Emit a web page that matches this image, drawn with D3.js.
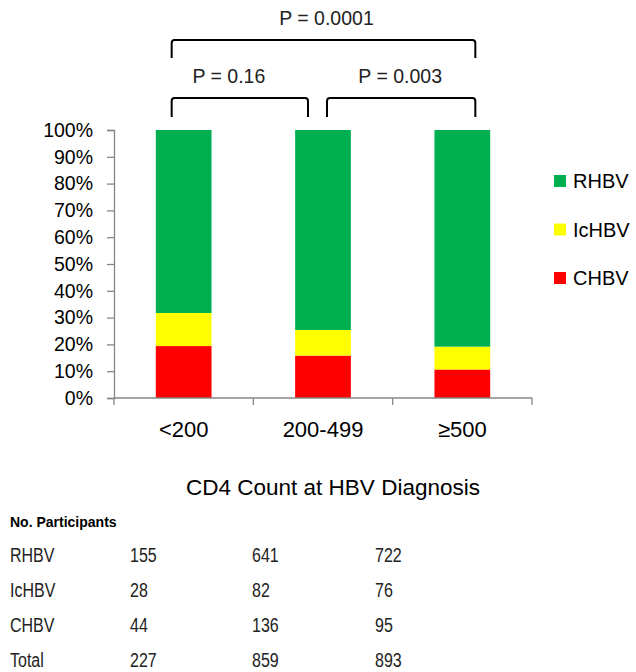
<!DOCTYPE html>
<html>
<head>
<meta charset="utf-8">
<script src="https://cdn.jsdelivr.net/npm/d3@7"></script>
<style>
  body { margin: 0; background: #fff; }
  svg { display: block; font-family: 'Liberation Sans', Arial, sans-serif; }
</style>
</head>
<body>
<svg width="636" height="672"></svg>
<script>
'use strict'

// data
let categories = ['<200', '200-499', '\u2265500'];
let series = ['CHBV', 'IcHBV', 'RHBV'];          // stacked bottom to top
let chbv = [44, 136, 95];
let ichbv = [28, 82, 76];
let rhbv = [155, 641, 722];
let totals = [227, 859, 893];
let yTicks = [0, 0.1, 0.2, 0.3, 0.4, 0.5, 0.6, 0.7, 0.8, 0.9, 1];
let pLabels = ['P = 0.16', 'P = 0.003', 'P = 0.0001'];

let colors = {RHBV: '#00b050', IcHBV: '#ffff00', CHBV: '#ff0000'};

let svg = d3.select('svg');

let x = d3.scaleBand()
    .domain(categories)
    .range([114, 532])
    .paddingInner(0.6)
    .paddingOuter(0.3);

let y = d3.scaleLinear()
    .domain([0, 1])
    .range([398, 130]);

// build rows for the stack as shares of each total
let rows = categories.map(function(c, i) {
    return {cat: c, CHBV: chbv[i] / totals[i], IcHBV: ichbv[i] / totals[i], RHBV: rhbv[i] / totals[i]};
});
let stacked = d3.stack().keys(series)(rows);

svg.append('g')
    .selectAll('g')
    .data(stacked)
    .enter().append('g')
    .attr('fill', function(d) { return colors[d.key]; })
    .selectAll('rect')
    .data(function(d) { return d; })
    .enter().append('rect')
    .attr('x', function(d) { return x(d.data.cat); })
    .attr('width', x.bandwidth())
    .attr('y', function(d) { return y(d[1]); })
    .attr('height', function(d) { return y(d[0]) - y(d[1]); });

// y axis
let yAxis = svg.append('g')
    .attr('transform', 'translate(114,0)')
    .call(d3.axisLeft(y).tickValues(yTicks).tickFormat(d3.format('.0%')).tickSize(7).tickPadding(14));
yAxis.selectAll('path, line').attr('stroke', '#868686').attr('stroke-width', 1.3);
yAxis.selectAll('text').attr('font-size', 19.5).attr('fill', '#000')
    .attr('font-family', "'Liberation Sans', Arial, sans-serif");

// x axis, Excel style: ticks on category boundaries
let xg = svg.append('g');
xg.append('line')
    .attr('x1', 114).attr('x2', 532)
    .attr('y1', y(0)).attr('y2', y(0))
    .attr('stroke', '#868686').attr('stroke-width', 1.3);
let bounds = categories.map(function(c) { return x(c) + x.bandwidth() / 2 - x.step() / 2; });
bounds.push(x(categories[categories.length - 1]) + x.bandwidth() / 2 + x.step() / 2);
xg.selectAll('.tk')
    .data(bounds)
    .enter().append('line')
    .attr('x1', function(d) { return d; }).attr('x2', function(d) { return d; })
    .attr('y1', y(0)).attr('y2', y(0) + 7)
    .attr('stroke', '#868686').attr('stroke-width', 1.3);
xg.selectAll('.cl')
    .data(categories)
    .enter().append('text')
    .attr('x', function(d) { return x(d) + x.bandwidth() / 2; })
    .attr('y', 437)
    .attr('text-anchor', 'middle')
    .attr('font-size', 22)
    .text(function(d) { return d; });

svg.append('text')
    .attr('x', 333).attr('y', 495)
    .attr('text-anchor', 'middle')
    .attr('font-size', 22.5)
    .text('CD4 Count at HBV Diagnosis');

// legend, top series first
let legend = svg.append('g')
    .selectAll('g')
    .data(series.slice().reverse())
    .enter().append('g')
    .attr('transform', function(d, i) { return 'translate(554,' + (181 + i * 48.5) + ')'; });
legend.append('rect')
    .attr('x', 0).attr('y', -6)
    .attr('width', 12).attr('height', 12)
    .attr('fill', function(d) { return colors[d]; });
legend.append('text')
    .attr('x', 19).attr('y', 7)
    .attr('font-size', 20)
    .text(function(d) { return d; });

// significance brackets
let cx = function(c) { return x(c) + x.bandwidth() / 2; };
let brackets = [
    {x0: cx(categories[0]) - 12, x1: cx(categories[1]) - 15, top: 98, bottom: 117, label: pLabels[0], dx: -11},
    {x0: cx(categories[1]) + 4, x1: cx(categories[2]) + 13, top: 98, bottom: 117, label: pLabels[1], dx: -1},
    {x0: cx(categories[0]) - 12, x1: cx(categories[2]) + 13, top: 40, bottom: 58, label: pLabels[2], dx: 3}
];
let r = 3;
let bg = svg.append('g');
bg.selectAll('path')
    .data(brackets)
    .enter().append('path')
    .attr('fill', 'none')
    .attr('stroke', '#000')
    .attr('stroke-width', 2)
    .attr('d', function(d) {
        return 'M' + d.x0 + ',' + d.bottom +
            'V' + (d.top + r) +
            'Q' + d.x0 + ',' + d.top + ' ' + (d.x0 + r) + ',' + d.top +
            'H' + (d.x1 - r) +
            'Q' + d.x1 + ',' + d.top + ' ' + d.x1 + ',' + (d.top + r) +
            'V' + d.bottom;
    });
bg.selectAll('text')
    .data(brackets)
    .enter().append('text')
    .attr('x', function(d) { return (d.x0 + d.x1) / 2 + d.dx; })
    .attr('y', function(d) { return d.top - 15; })
    .attr('text-anchor', 'middle')
    .attr('font-size', 19.5)
    .attr('fill', '#222')
    .text(function(d) { return d.label; });

// participant table
let table = svg.append('g');
table.append('text')
    .attr('x', 10).attr('y', 527)
    .attr('font-size', 14)
    .attr('font-weight', 'bold')
    .text('No. Participants');

let tableRows = [
    ['RHBV'].concat(rhbv),
    ['IcHBV'].concat(ichbv),
    ['CHBV'].concat(chbv),
    ['Total'].concat(totals)
];
let colX = [10, 130, 252, 375];
let sx = 0.8;
table.selectAll('.row')
    .data(tableRows)
    .enter().append('g')
    .attr('transform', function(d, i) { return 'translate(0,' + (562 + i * 35) + ') scale(' + sx + ',1)'; })
    .selectAll('text')
    .data(function(d) { return d; })
    .enter().append('text')
    .attr('x', function(d, i) { return colX[i] / sx; })
    .attr('font-size', 20)
    .attr('fill', '#222')
    .text(function(d) { return d; });
</script>
</body>
</html>
